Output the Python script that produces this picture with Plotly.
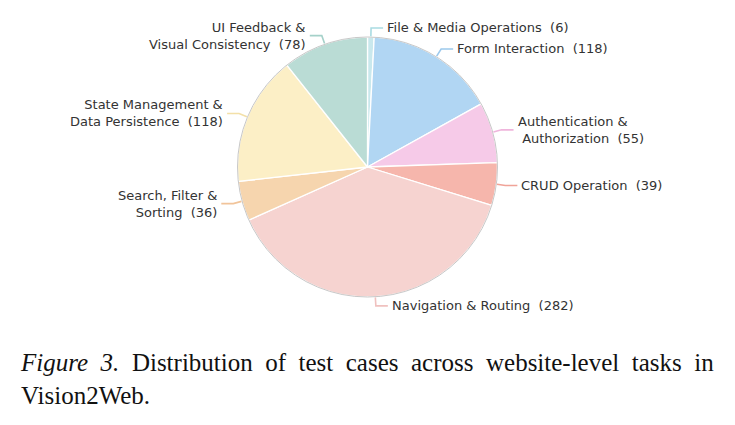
import math
import plotly.graph_objects as go

# ---- data ----
categories = [
    "File & Media Operations",
    "Form Interaction",
    "Authentication &<br>\u00a0Authorization",
    "CRUD Operation",
    "Navigation & Routing",
    "Search, Filter &<br>Sorting",
    "State Management &<br>Data Persistence",
    "UI Feedback &<br>Visual Consistency",
]
counts = [6, 118, 55, 39, 282, 36, 118, 78]
colors = ["#c9e8ed", "#b1d6f3", "#f6cae8", "#f6b6ac", "#f6d3d0",
          "#f6d5ae", "#fcefc6", "#badcd5"]
line_colors = ["#a9dbe2", "#9cc9ec", "#efb5dc", "#f0a398", "#f0c1bf",
               "#f1c49a", "#f3e0a8", "#a5d1c9"]
caption_line1 = ["<i>Figure", "3.</i>", "Distribution", "of", "test", "cases",
                 "across", "website-level", "tasks", "in"]
caption_line2 = "Vision2Web."

W, H = 735, 425
cx, cy, r = 367.5, 167.0, 130.0


def px(x):
    return x / W


def py(y):
    return 1 - y / H


fig = go.Figure()
fig.add_trace(go.Pie(
    labels=[c.replace("<br>", " ") for c in categories],
    values=counts,
    sort=False,
    direction="clockwise",
    rotation=0,
    marker=dict(colors=colors, line=dict(color="white", width=1.3)),
    textinfo="none",
    hoverinfo="label+value",
    showlegend=False,
    domain=dict(x=[px(cx - r), px(cx + r)], y=[py(cy + r), py(cy - r)]),
))

shapes = []
annotations = []
# grey rim around the pie
shapes.append(dict(type="circle", xref="paper", yref="paper",
                   x0=px(cx - r), x1=px(cx + r), y0=py(cy + r), y1=py(cy - r),
                   line=dict(color="#c8c8c8", width=1)))

total = sum(counts)
cum = 0
font_family = "DejaVu Sans, sans-serif"
for lab, v, lc in zip(categories, counts, line_colors):
    mid = (cum + v / 2) / total * 2 * math.pi
    cum += v
    sx, sy = math.sin(mid), -math.cos(mid)
    p0 = (cx + r * 1.005 * sx, cy + r * 1.005 * sy)
    e = (cx + r * 1.07 * sx, cy + r * 1.07 * sy)
    side = 1 if sx >= 0 else -1
    e2 = (e[0] + side * 12, e[1])
    path = "M {} {} L {} {} L {} {}".format(px(p0[0]), py(p0[1]), px(e[0]), py(e[1]),
                                            px(e2[0]), py(e2[1]))
    shapes.append(dict(type="path", xref="paper", yref="paper", path=path,
                       line=dict(color=lc, width=1.6)))
    text = "{}\u00a0\u00a0({})".format(lab, v)
    annotations.append(dict(
        x=px(e2[0] + side * 2), y=py(e2[1]), xref="paper", yref="paper",
        text=text, showarrow=False,
        xanchor="left" if side > 0 else "right", yanchor="middle",
        align="left" if side > 0 else "right",
        font=dict(family=font_family, size=13, color="#333333"),
    ))

# justified-looking caption (LaTeX stretches the first line)
caption = "\u00a0 ".join(caption_line1) + "<br>" + caption_line2
annotations.append(dict(
    x=px(18), y=py(347), xref="paper", yref="paper", text=caption,
    showarrow=False, xanchor="left", yanchor="top", align="left",
    font=dict(family="Liberation Serif, Times New Roman, serif", size=25, color="#111111"),
))

fig.update_layout(
    width=W, height=H,
    margin=dict(l=0, r=0, t=0, b=0),
    paper_bgcolor="white", plot_bgcolor="white",
    shapes=shapes, annotations=annotations,
)
fig.write_html("out.html")
